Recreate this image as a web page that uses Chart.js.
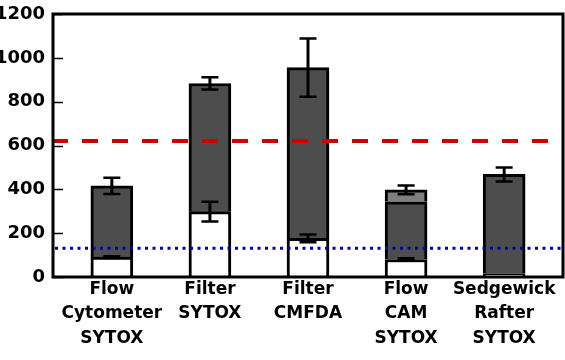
<!DOCTYPE html>
<html>
<head>
<meta charset="utf-8">
<script src="https://cdn.jsdelivr.net/npm/chart.js@4.4.1/dist/chart.umd.min.js"></script>
<style>
  body { margin: 0; background: #fff; }
  #wrap { width: 565px; height: 360px; }
</style>
</head>
<body>
<div id="wrap"><canvas id="myChart" width="565" height="360"></canvas></div>
<script>
// data
const categories = [
  ["Flow", "Cytometer", "SYTOX"],
  ["Filter", "SYTOX"],
  ["Filter", "CMFDA"],
  ["Flow", "CAM", "SYTOX"],
  ["Sedgewick", "Rafter", "SYTOX"],
];
const whiteVals = [91, 298, 176, 80, 15];
const whiteErr = [4, 45, 18, 6, 0];
const grayVals = [325, 585, 779, 263, 453];
const grayErr = [37, 28, 133, 0, 32];
const lightVals = [0, 0, 0, 55, 0];
const lightErr = [0, 0, 0, 20, 0];
const yTicks = [0, 200, 400, 600, 800, 1000, 1200];
const refHigh = 620;
const refLow = 131;

const toXY = (arr) => arr.map((v, i) => ({ x: i, y: v }));

// frame, inside tick marks, error bars and the two reference lines
const extras = {
  id: "extras",
  afterDatasetsDraw(chart) {
    const c = chart.ctx;
    const a = chart.chartArea;
    const y = chart.scales.y;
    c.save();

    // error bars
    const cum = categories.map(() => 0);
    chart.data.datasets.forEach((ds, di) => {
      const meta = chart.getDatasetMeta(di);
      ds.data.forEach((p, i) => {
        cum[i] += p.y;
        const e = ds.err[i];
        if (!e || !p.y) return;
        const cx = meta.data[i].x;
        const hi = y.getPixelForValue(cum[i] + e);
        const lo = y.getPixelForValue(cum[i] - e);
        c.strokeStyle = "#000";
        c.lineWidth = 3;
        c.beginPath();
        c.moveTo(cx, hi);
        c.lineTo(cx, lo);
        c.stroke();
        c.lineWidth = 2.5;
        c.beginPath();
        c.moveTo(cx - 8.5, hi);
        c.lineTo(cx + 8.5, hi);
        c.moveTo(cx - 8.5, lo);
        c.lineTo(cx + 8.5, lo);
        c.stroke();
      });
    });

    // reference lines
    let py = y.getPixelForValue(refHigh);
    c.strokeStyle = "#cc0000";
    c.lineWidth = 4;
    c.setLineDash([16, 14]);
    c.beginPath();
    c.moveTo(a.left - 1, py);
    c.lineTo(a.right, py);
    c.stroke();

    py = y.getPixelForValue(refLow);
    c.strokeStyle = "#0000b0";
    c.lineWidth = 3;
    c.setLineDash([3, 4.5]);
    c.beginPath();
    c.moveTo(a.left + 2, py);
    c.lineTo(a.right, py);
    c.stroke();
    c.setLineDash([]);

    // tick marks pointing in
    c.strokeStyle = "#000";
    c.lineWidth = 1.5;
    yTicks.forEach((t) => {
      const ty = Math.round(y.getPixelForValue(t)) + 0.5;
      c.beginPath();
      c.moveTo(a.left, ty);
      c.lineTo(a.left + 10, ty);
      c.stroke();
    });

    // frame
    c.lineWidth = 3;
    c.strokeRect(a.left, a.top, a.right - a.left, a.bottom - a.top);
    c.restore();
  },
};

const ctx = document.getElementById("myChart");
Chart.defaults.font.family = "'DejaVu Sans', sans-serif";
Chart.defaults.font.weight = "bold";
Chart.defaults.color = "#000";

new Chart(ctx, {
  type: "bar",
  data: {
    datasets: [
      {
        label: "white",
        data: toXY(whiteVals),
        err: whiteErr,
        backgroundColor: "#ffffff",
        borderColor: "#000",
        borderWidth: { left: 3, right: 3, top: 3, bottom: 0 },
        borderSkipped: false,
        stack: "s",
        barThickness: 42,
      },
      {
        label: "gray",
        data: toXY(grayVals),
        err: grayErr,
        backgroundColor: "#4d4d4d",
        borderColor: "#000",
        borderWidth: { left: 3, right: 3, top: 3, bottom: 0 },
        borderSkipped: false,
        stack: "s",
        barThickness: 42,
      },
      {
        label: "light",
        data: toXY(lightVals),
        err: lightErr,
        backgroundColor: "#7f7f7f",
        borderColor: "#000",
        borderWidth: { left: 3, right: 3, top: 3, bottom: 0 },
        borderSkipped: false,
        stack: "s",
        barThickness: 42,
      },
    ],
  },
  plugins: [extras],
  options: {
    responsive: false,
    animation: false,
    layout: { padding: { top: 14, right: 2, left: 0, bottom: 0 } },
    plugins: {
      legend: { display: false },
      tooltip: { enabled: false },
    },
    scales: {
      x: {
        type: "linear",
        offset: false,
        min: -0.6,
        max: 4.6,
        grid: { display: false },
        border: { display: false },
        afterBuildTicks: (s) => {
          s.ticks = categories.map((_, i) => ({ value: i }));
        },
        afterFit: (s) => {
          s.height = 83;
        },
        ticks: {
          autoSkip: false,
          maxRotation: 0,
          padding: -8,
          font: { size: 17, weight: "bold", lineHeight: 1.44 },
          callback: (v) => categories[v],
        },
      },
      y: {
        stacked: true,
        min: 0,
        max: 1200,
        grid: { display: false },
        border: { display: false },
        afterBuildTicks: (s) => {
          s.ticks = yTicks.map((v) => ({ value: v }));
        },
        afterFit: (s) => {
          s.width = 53;
        },
        ticks: {
          padding: 0,
          font: { size: 18, weight: "bold" },
          callback: (v) => String(v),
        },
      },
    },
  },
});
</script>
</body>
</html>
